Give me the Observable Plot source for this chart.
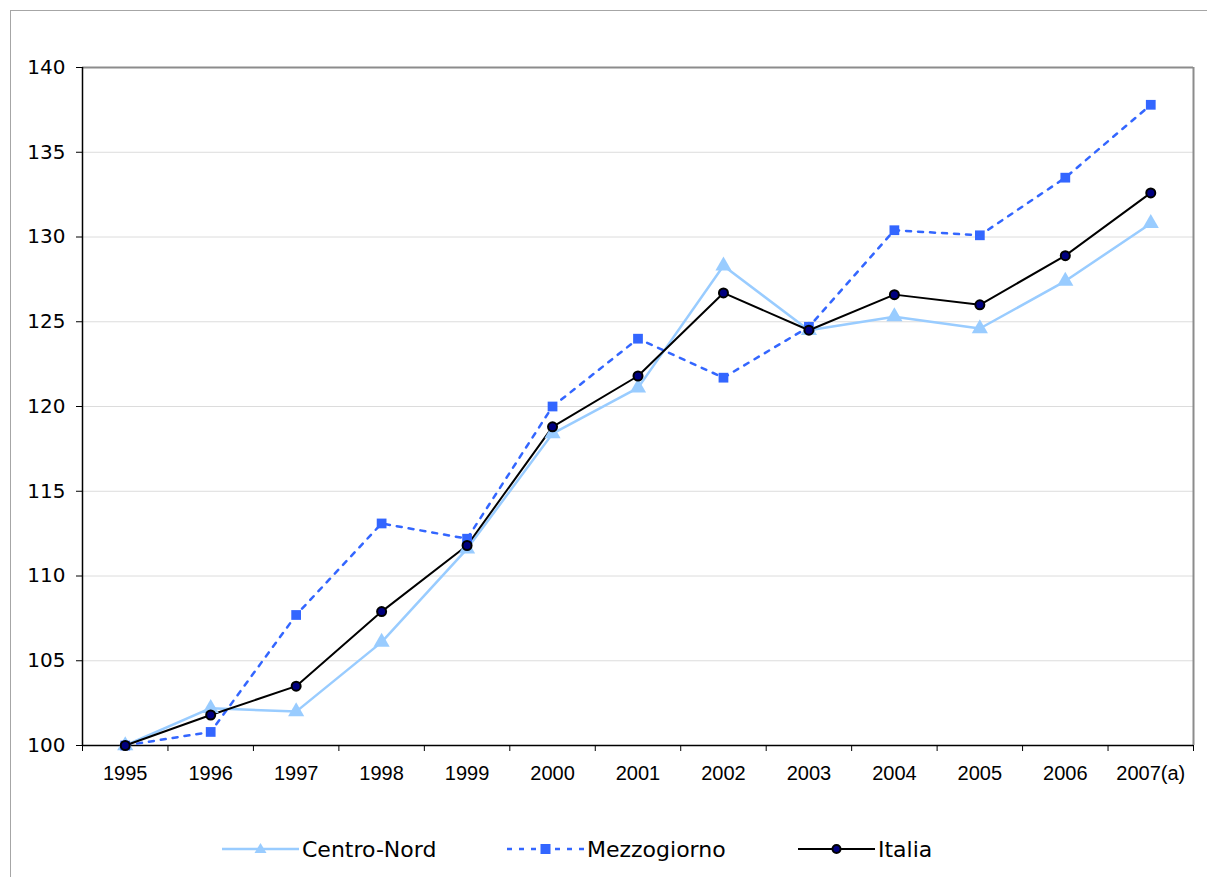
<!DOCTYPE html>
<html>
<head>
<meta charset="utf-8">
<script src="https://cdn.jsdelivr.net/npm/d3@7"></script>
<script src="https://cdn.jsdelivr.net/npm/@observablehq/plot@0.6"></script>
<style>
  html, body { margin: 0; padding: 0; background: #fff; width: 1207px; height: 877px; overflow: hidden; }
  #frame { position: absolute; left: 10px; top: 10px; width: 1230px; height: 900px; border: 1.5px solid #a6a6a6; pointer-events: none; }
  #chart { position: absolute; left: 0; top: 0; }
  #legend { position: absolute; top: 835px; left: 0; width: 1207px; height: 28px; font-family: "DejaVu Sans", sans-serif; font-size: 22px; color: #000; }
  .item { position: absolute; top: 0; display: flex; align-items: center; height: 28px; }
  .item svg { display: block; }
</style>
</head>
<body>
<div id="chart"></div>
<div id="legend"></div>
<div id="frame"></div>
<script>
const categories = ["1995","1996","1997","1998","1999","2000","2001","2002","2003","2004","2005","2006","2007(a)"];
const centroNord  = [100, 102.2, 102.0, 106.1, 111.6, 118.4, 121.1, 128.3, 124.5, 125.3, 124.6, 127.4, 130.8];
const mezzogiorno = [100, 100.8, 107.7, 113.1, 112.2, 120.0, 124.0, 121.7, 124.7, 130.4, 130.1, 133.5, 137.8];
const italia      = [100, 101.8, 103.5, 107.9, 111.8, 118.8, 121.8, 126.7, 124.5, 126.6, 126.0, 128.9, 132.6];
const yTicks = [100, 105, 110, 115, 120, 125, 130, 135, 140];
const seriesNames = ["Centro-Nord", "Mezzogiorno", "Italia"];

const toRows = vals => vals.map((v, i) => ({i, v}));
const cn = toRows(centroNord), mz = toRows(mezzogiorno), it = toRows(italia);
const idx = categories.map((c, i) => i);
const bounds = d3.range(categories.length + 1).map(i => i - 0.5);

const chart = Plot.plot({
  width: 1207, height: 800,
  marginLeft: 82, marginTop: 67, marginRight: 14, marginBottom: 55,
  x: {domain: [-0.5, categories.length - 0.5], axis: null, label: null},
  y: {domain: [100, 140], axis: null, label: null},
  style: {background: "transparent", overflow: "visible"},
  marks: [
    Plot.gridY(yTicks.slice(1, -1), {stroke: "#dcdcdc", strokeOpacity: 1, strokeWidth: 1}),
    Plot.axisY(yTicks, {anchor: "left", label: null, tickSize: 6, tickPadding: 11, fontSize: 20, fontFamily: "DejaVu Sans", stroke: "#000", tickFormat: d => String(d)}),
    Plot.axisX(idx, {anchor: "bottom", label: null, tickSize: 0, tickPadding: 20, fontSize: 20, fontFamily: "Liberation Sans", tickFormat: i => categories[i]}),
    Plot.axisX(bounds, {anchor: "bottom", label: null, tickSize: 6, tickFormat: () => "", stroke: "#000"}),
    Plot.ruleY([140], {stroke: "#8c8c8c", strokeWidth: 2}),
    Plot.ruleX([categories.length - 0.5], {stroke: "#8c8c8c", strokeWidth: 2}),
    Plot.ruleY([100], {stroke: "#000", strokeWidth: 1.5}),
    Plot.ruleX([-0.5], {stroke: "#000", strokeWidth: 1.5}),
    Plot.line(cn, {x: "i", y: "v", stroke: "#99ccff", strokeWidth: 2.5}),
    Plot.line(mz, {x: "i", y: "v", stroke: "#3366ff", strokeWidth: 2.5, strokeDasharray: "5,7"}),
    Plot.line(it, {x: "i", y: "v", stroke: "#000", strokeWidth: 2}),
    Plot.dot(cn, {x: "i", y: "v", symbol: "triangle", r: 6, fill: "#99ccff", stroke: "none"}),
    Plot.dot(mz, {x: "i", y: "v", symbol: "square", r: 5.5, fill: "#3366ff", stroke: "none"}),
    Plot.dot(it, {x: "i", y: "v", symbol: "circle", r: 4.5, fill: "#000080", stroke: "#000", strokeWidth: 2})
  ]
});
document.getElementById("chart").appendChild(chart);

// Legend
const legendDefs = [
  {name: seriesNames[0], left: 222, stroke: "#99ccff", dash: null, sw: 2.5, sym: "tri", fill: "#99ccff"},
  {name: seriesNames[1], left: 507, stroke: "#3366ff", dash: "5,7", sw: 2.5, sym: "sq", fill: "#3366ff"},
  {name: seriesNames[2], left: 798, stroke: "#000", dash: null, sw: 2, sym: "circ", fill: "#000080"}
];
const legend = document.getElementById("legend");
for (const d of legendDefs) {
  const item = document.createElement("div");
  item.className = "item";
  item.style.left = d.left + "px";
  const w = 77, h = 28, cy = 14;
  let sym = "";
  if (d.sym === "tri") sym = `<path d="M${w/2},${cy-6} L${w/2+6},${cy+4} L${w/2-6},${cy+4} Z" fill="${d.fill}"/>`;
  if (d.sym === "sq") sym = `<rect x="${w/2-5}" y="${cy-5}" width="10" height="10" fill="${d.fill}"/>`;
  if (d.sym === "circ") sym = `<circle cx="${w/2}" cy="${cy}" r="4" fill="${d.fill}" stroke="#000" stroke-width="2"/>`;
  item.innerHTML = `<svg width="${w}" height="${h}"><line x1="0" x2="${w}" y1="${cy}" y2="${cy}" stroke="${d.stroke}" stroke-width="${d.sw}" ${d.dash ? `stroke-dasharray="${d.dash}"` : ""}/>${sym}</svg><span style="margin-left:3px">${d.name}</span>`;
  legend.appendChild(item);
}
</script>
</body>
</html>
